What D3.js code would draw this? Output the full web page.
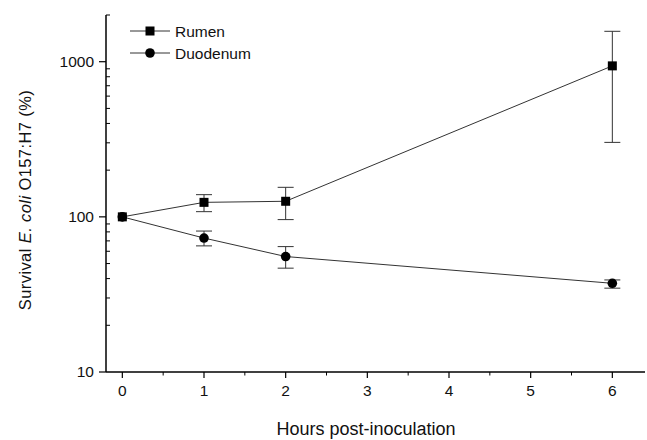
<!DOCTYPE html>
<html>
<head>
<meta charset="utf-8">
<script src="https://cdn.jsdelivr.net/npm/d3@7"></script>
<style>
  body { margin: 0; background: #fff; }
  text { font-family: Arial, "Liberation Sans", sans-serif; fill: #111; }
</style>
</head>
<body>
<svg id="chart" width="647" height="440"></svg>
<script>
// data
const hours = [0, 1, 2, 6]
const rumen = [100, 124, 126, 940]
const rumenLo = [100, 108, 96, 302]
const rumenHi = [100, 139, 155, 1570]
const duodenum = [100, 73, 55.5, 37.3]
const duodenumLo = [100, 65, 46.7, 34.7]
const duodenumHi = [100, 81, 64.3, 39.2]
const xTicks = [0, 1, 2, 3, 4, 5, 6]
const yTicks = [10, 100, 1000]

const svg = d3.select('#chart')
const margin = { left: 106, right: 2, top: 15, bottom: 68 }
const W = 647, H = 440

const x = d3.scaleLinear().domain([-0.2, 6.4]).range([margin.left, W - margin.right])
const y = d3.scaleLog().domain([10, 2000]).range([H - margin.bottom, margin.top])

// axes
const xAxis = svg.append('g').attr('transform', `translate(0,${H - margin.bottom})`)
xAxis.append('line').attr('x1', x.range()[0]).attr('x2', x.range()[1]).attr('stroke', '#000').attr('stroke-width', 1.5)
xAxis.selectAll('.maj').data(xTicks).join('line')
  .attr('x1', d => x(d)).attr('x2', d => x(d)).attr('y1', 0).attr('y2', 6)
  .attr('stroke', '#000').attr('stroke-width', 1.2)
xAxis.selectAll('.min').data(d3.range(0, 6.5, 0.5).filter(d => d % 1 !== 0)).join('line')
  .attr('x1', d => x(d)).attr('x2', d => x(d)).attr('y1', 0).attr('y2', 3.5)
  .attr('stroke', '#000').attr('stroke-width', 1)
xAxis.selectAll('text').data(xTicks).join('text')
  .attr('x', d => x(d)).attr('y', 24).attr('text-anchor', 'middle')
  .style('font-size', '15.5px').text(d => d)

const yAxis = svg.append('g').attr('transform', `translate(${margin.left},0)`)
yAxis.append('line').attr('y1', y.range()[0]).attr('y2', y.range()[1]).attr('stroke', '#000').attr('stroke-width', 1.5)
yAxis.selectAll('.maj').data(yTicks).join('line')
  .attr('y1', d => y(d)).attr('y2', d => y(d)).attr('x1', 0).attr('x2', -7)
  .attr('stroke', '#000').attr('stroke-width', 1.2)
const minors = y.ticks().filter(d => !yTicks.includes(d))
yAxis.selectAll('.min').data(minors).join('line')
  .attr('y1', d => y(d)).attr('y2', d => y(d)).attr('x1', 0).attr('x2', 4)
  .attr('stroke', '#000').attr('stroke-width', 1)
yAxis.selectAll('text').data(yTicks).join('text')
  .attr('x', -12).attr('y', d => y(d)).attr('dy', '0.35em').attr('text-anchor', 'end')
  .style('font-size', '15.5px').text(d => d)

// axis titles
svg.append('text').attr('x', 366).attr('y', 435).attr('text-anchor', 'middle')
  .style('font-size', '18px').text('Hours post-inoculation')
const yt = svg.append('text').attr('transform', 'translate(31,200) rotate(-90)')
  .attr('text-anchor', 'middle').style('font-size', '16.5px').style('letter-spacing', '0.4px')
yt.append('tspan').text('Survival ')
yt.append('tspan').style('font-style', 'italic').text('E. coli')
yt.append('tspan').text(' O157:H7 (%)')

// series
const series = [
  { name: 'Rumen', v: rumen, lo: rumenLo, hi: rumenHi, shape: 'square' },
  { name: 'Duodenum', v: duodenum, lo: duodenumLo, hi: duodenumHi, shape: 'circle' }
]
const line = d3.line().x(d => x(d[0])).y(d => y(d[1]))

function marker (g, shape, cx, cy) {
  if (shape === 'square') {
    g.append('rect').attr('x', cx - 4.5).attr('y', cy - 4.5).attr('width', 9).attr('height', 9).attr('fill', '#000')
  } else {
    g.append('circle').attr('cx', cx).attr('cy', cy).attr('r', 4.8).attr('fill', '#000')
  }
}

series.slice().reverse().forEach(s => {
  const g = svg.append('g')
  g.append('path').datum(hours.map((h, i) => [h, s.v[i]]))
    .attr('d', line).attr('fill', 'none').attr('stroke', '#333').attr('stroke-width', 1)
  hours.forEach((h, i) => {
    if (s.lo[i] === s.hi[i]) return
    const cx = x(h)
    g.append('line').attr('x1', cx).attr('x2', cx).attr('y1', y(s.lo[i])).attr('y2', y(s.hi[i]))
      .attr('stroke', '#333').attr('stroke-width', 1)
    ;[s.lo[i], s.hi[i]].forEach(v => {
      g.append('line').attr('x1', cx - 8).attr('x2', cx + 8).attr('y1', y(v)).attr('y2', y(v))
        .attr('stroke', '#333').attr('stroke-width', 1)
    })
  })
  hours.forEach((h, i) => marker(g, s.shape, x(h), y(s.v[i])))
})

// legend
series.forEach((s, i) => {
  const ly = 31 + i * 22
  const g = svg.append('g')
  g.append('line').attr('x1', 130).attr('x2', 170).attr('y1', ly).attr('y2', ly)
    .attr('stroke', '#333').attr('stroke-width', 1)
  marker(g, s.shape, 150, ly)
  g.append('text').attr('x', 175).attr('y', ly).attr('dy', '0.36em')
    .style('font-size', '15.5px').text(s.name)
})
</script>
</body>
</html>
